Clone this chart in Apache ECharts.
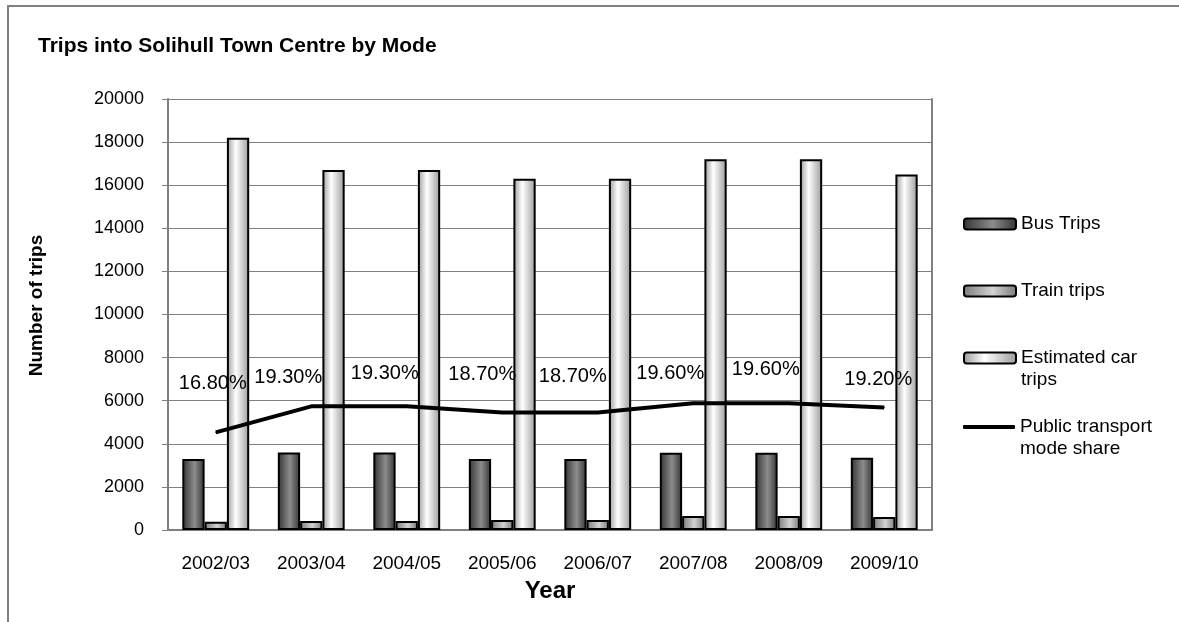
<!DOCTYPE html>
<html>
<head>
<meta charset="utf-8">
<title>Trips into Solihull Town Centre by Mode</title>
<script src="https://cdn.jsdelivr.net/npm/echarts@6/dist/echarts.min.js"></script>
<style>
  html, body { margin: 0; padding: 0; background: #fff; }
  #chart { width: 1179px; height: 622px; }
</style>
</head>
<body>
<div id="chart"></div>
<script>
const years = ['2002/03', '2003/04', '2004/05', '2005/06', '2006/07', '2007/08', '2008/09', '2009/10']
const busTrips = [3300, 3600, 3600, 3300, 3300, 3580, 3580, 3350]
const trainTrips = [380, 420, 420, 460, 460, 650, 650, 600]
const carTrips = [18200, 16700, 16700, 16300, 16300, 17200, 17200, 16500]
const modeShare = [16.8, 19.3, 19.3, 18.7, 18.7, 19.6, 19.6, 19.2]

// the percentage labels were hand-placed in the original
const labelOffsets = [[-3, -33], [-23, -13], [-22, -17], [-20, -23], [-25, -21], [-23, -14], [-23, -18], [-6, -12]]

const font = 'Liberation Sans, Arial, sans-serif'
const axisGray = '#808080'

function grad(edge, mid, at) {
  return new echarts.graphic.LinearGradient(0, 0, 1, 0, [
    { offset: 0, color: edge },
    { offset: at, color: mid },
    { offset: 1, color: edge }
  ])
}

const busColor = grad('#333333', '#8c8c8c', 0.55)
const trainColor = grad('#7a7a7a', '#d2d2d2', 0.55)
const carColor = grad('#9a9a9a', '#ffffff', 0.4)

// legend texts that wrap onto a second line, icon stays on the first line
const legendText = {
  'Estimated car trips': '\nEstimated car\ntrips',
  'Public transport mode share': '\nPublic transport\nmode share'
}

function legendAt(item, top, iconH) {
  return {
    data: [item],
    orient: 'vertical',
    left: 963,
    top: top,
    padding: 0,
    itemWidth: 52,
    itemHeight: iconH || 11,
    textStyle: { fontFamily: font, fontSize: 19, color: '#000', lineHeight: 22 },
    formatter: function (n) { return legendText[n] || n }
  }
}

const chart = echarts.init(document.getElementById('chart'))
chart.setOption({
  backgroundColor: '#fff',
  animation: false,
  textStyle: { fontFamily: font },
  title: {
    text: 'Trips into Solihull Town Centre by Mode',
    left: 33,
    top: 31,
    textStyle: { fontFamily: font, fontSize: 21, fontWeight: 'bold', color: '#000' }
  },
  graphic: [
    {
      type: 'polyline',
      shape: { points: [[8, 700], [8, 6], [1179, 6]] },
      style: { stroke: axisGray, lineWidth: 2, fill: null },
      silent: true
    }
  ],
  legend: [
    legendAt('Bus Trips', 213),
    legendAt('Train trips', 280),
    legendAt('Estimated car trips', 325),
    legendAt({ name: 'Public transport mode share', icon: 'roundRect' }, 394, 4)
  ],
  grid: { left: 168, right: 247, top: 99, bottom: 92 },
  xAxis: {
    type: 'category',
    data: years,
    name: 'Year',
    nameLocation: 'middle',
    nameGap: 49,
    nameTextStyle: { fontFamily: font, fontSize: 24, fontWeight: 'bold', color: '#000' },
    axisLine: { lineStyle: { color: axisGray, width: 2 } },
    axisTick: { interval: 0, length: 6, lineStyle: { color: axisGray, width: 1 } },
    axisLabel: { interval: 0, margin: 24, fontFamily: font, fontSize: 19, color: '#000' }
  },
  yAxis: [
    {
      type: 'value',
      min: 0,
      max: 20000,
      interval: 2000,
      name: 'Number of trips',
      nameLocation: 'middle',
      nameGap: 122,
      nameTextStyle: { fontFamily: font, fontSize: 19, fontWeight: 'bold', color: '#000', padding: [0, 0, 0, 18] },
      axisLine: { show: true, lineStyle: { color: axisGray, width: 2 } },
      axisTick: { show: true, length: 6, lineStyle: { color: axisGray } },
      axisLabel: {
        margin: 24,
        fontFamily: font,
        fontSize: 18,
        color: '#000',
        formatter: function (v) { return String(v) }
      },
      splitLine: { lineStyle: { color: axisGray, width: 1 } }
    },
    {
      // hidden secondary axis for the mode share line
      type: 'value',
      position: 'right',
      min: 7.45,
      max: 48.75,
      axisLine: { show: true, lineStyle: { color: axisGray, width: 2 } },
      axisTick: { show: false },
      axisLabel: { show: false },
      splitLine: { show: false }
    }
  ],
  series: [
    {
      name: 'Bus Trips',
      type: 'bar',
      data: busTrips,
      barGap: '0%',
      barCategoryGap: '30%',
      itemStyle: { color: busColor, borderColor: '#000', borderWidth: 2 }
    },
    {
      name: 'Train trips',
      type: 'bar',
      data: trainTrips,
      itemStyle: { color: trainColor, borderColor: '#000', borderWidth: 2 }
    },
    {
      name: 'Estimated car trips',
      type: 'bar',
      data: carTrips,
      itemStyle: { color: carColor, borderColor: '#000', borderWidth: 2 }
    },
    {
      name: 'Public transport mode share',
      type: 'line',
      yAxisIndex: 1,
      z: 5,
      symbol: 'circle',
      symbolSize: 1,
      data: modeShare.map(function (v, i) {
        return { value: v, label: { offset: labelOffsets[i] } }
      }),
      lineStyle: { color: '#000', width: 4 },
      itemStyle: { color: '#000' },
      label: {
        show: true,
        position: 'top',
        fontFamily: font,
        fontSize: 20,
        color: '#000',
        formatter: function (p) { return p.value.toFixed(2) + '%' }
      }
    }
  ]
})
</script>
</body>
</html>
